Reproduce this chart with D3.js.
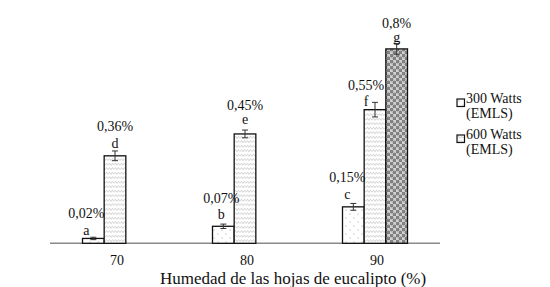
<!DOCTYPE html>
<html>
<head>
<meta charset="utf-8">
<script src="https://cdn.jsdelivr.net/npm/d3@7"></script>
<style>
  body { margin: 0; background: #fff; }
  svg text { font-family: "Liberation Serif", "DejaVu Serif", serif; fill: #111; }
</style>
</head>
<body>
<div id="container"></div>
<script>
/* DATA */
const categories = ["70", "80", "90"];
const seriesNames = ["300 Watts (EMLS)", "600 Watts (EMLS)", "Serie 3"];
const values300 = [0.02, 0.07, 0.15];
const values600 = [0.36, 0.45, 0.55];
const values3 = [null, null, 0.8];
const err300 = [0.005, 0.009, 0.014];
const err600 = [0.02, 0.016, 0.03];
const err3 = [null, null, 0.022];
const letters300 = ["a", "b", "c"];
const letters600 = ["d", "e", "f"];
const letters3 = [null, null, "g"];
const xTitle = "Humedad de las hojas de eucalipto (%)";

/* CONSTANTS */
const width = 550, height = 287;
const margin = { top: 0.3, left: 50, right: 110, axisY: 243.3 };

// small hand nudges for the labels (dx, letter dy from cap, percent dy from letter)
const nudges = [
  [[-7, -7, -17], [-2, -10, -16], [-6, -9, -17]],
  [[0, -8, -17], [0, -11, -14], [-9, -1, -16]],
  [null, null, [0, -6, -14]]
];

const seriesVals = [values300, values600, values3];
const seriesErr = [err300, err600, err3];
const seriesLetters = [letters300, letters600, letters3];

const data = [];
seriesVals.forEach((vals, s) => {
  vals.forEach((v, i) => {
    if (v == null) return;
    data.push({ cat: categories[i], s, v, err: seriesErr[s][i], letter: seriesLetters[s][i], nudge: nudges[s][i] });
  });
});

/* SCALES */
const x0 = d3.scaleBand()
  .domain(categories)
  .range([margin.left, width - margin.right])
  .paddingInner(0.5)
  .paddingOuter(0.25);

const x1 = d3.scaleBand()
  .domain(d3.range(seriesNames.length))
  .range([0, x0.bandwidth()]);

const y = d3.scaleLinear()
  .domain([0, 1])
  .range([margin.axisY, margin.top]);

/* SVG */
const svg = d3.select("#container").append("svg")
  .attr("width", width)
  .attr("height", height)
  .attr("font-family", "Liberation Serif, serif");

const defs = svg.append("defs");

// dots
const pDots = defs.append("pattern").attr("id", "p0")
  .attr("patternUnits", "userSpaceOnUse").attr("width", 8).attr("height", 8);
pDots.append("rect").attr("width", 8).attr("height", 8).attr("fill", "#fff");
pDots.selectAll("circle").data([[2, 2], [6, 6]]).join("circle")
  .attr("cx", d => d[0]).attr("cy", d => d[1]).attr("r", 0.6).attr("fill", "#999");

// zigzag
const pZig = defs.append("pattern").attr("id", "p1")
  .attr("patternUnits", "userSpaceOnUse").attr("width", 6).attr("height", 4.5);
pZig.append("rect").attr("width", 6).attr("height", 4.5).attr("fill", "#fff");
pZig.append("path").attr("d", "M0,3.2 L1.5,1.2 L3,3.2 L4.5,1.2 L6,3.2")
  .attr("fill", "none").attr("stroke", "#b8b8b8").attr("stroke-width", 0.7);

// circles
const pCirc = defs.append("pattern").attr("id", "p2")
  .attr("patternUnits", "userSpaceOnUse").attr("width", 6).attr("height", 6);
pCirc.append("rect").attr("width", 6).attr("height", 6).attr("fill", "#d2d2d2");
pCirc.selectAll("circle").data([[1.5, 1.5], [4.5, 4.5]]).join("circle")
  .attr("cx", d => d[0]).attr("cy", d => d[1]).attr("r", 1.5)
  .attr("fill", "#8a8a8a").attr("stroke", "#444").attr("stroke-width", 0.5);

// axis line
svg.append("line")
  .attr("x1", margin.left).attr("x2", width - margin.right)
  .attr("y1", margin.axisY).attr("y2", margin.axisY)
  .attr("stroke", "#8a8a8a").attr("stroke-width", 1.5);

// bars
svg.selectAll("rect.bar")
  .data(data)
  .join("rect")
  .attr("class", "bar")
  .attr("x", d => x0(d.cat) + x1(d.s))
  .attr("y", d => y(d.v))
  .attr("width", x1.bandwidth())
  .attr("height", d => y(0) - y(d.v))
  .attr("fill", d => `url(#p${d.s})`)
  .attr("stroke", "#111")
  .attr("stroke-width", 1.3);

// error bars
const eb = svg.selectAll("g.err").data(data).join("g").attr("class", "err")
  .attr("stroke", "#333").attr("stroke-width", 1);
const cx = d => x0(d.cat) + x1(d.s) + x1.bandwidth() / 2;
eb.append("line").attr("x1", cx).attr("x2", cx)
  .attr("y1", d => y(d.v + d.err)).attr("y2", d => y(d.v - d.err));
eb.append("line").attr("x1", d => cx(d) - 3).attr("x2", d => cx(d) + 3)
  .attr("y1", d => y(d.v + d.err)).attr("y2", d => y(d.v + d.err));
eb.append("line").attr("x1", d => cx(d) - 3).attr("x2", d => cx(d) + 3)
  .attr("y1", d => y(d.v - d.err)).attr("y2", d => y(d.v - d.err));

// letters and percentages
const fmt = v => String(v).replace(".", ",") + "%";
svg.selectAll("text.letter").data(data).join("text")
  .attr("class", "letter")
  .attr("x", d => cx(d) + d.nudge[0])
  .attr("y", d => y(d.v + d.err) + d.nudge[1])
  .attr("dy", "0.35em")
  .attr("text-anchor", "middle")
  .style("font-size", "14px")
  .text(d => d.letter);

svg.selectAll("text.pct").data(data).join("text")
  .attr("class", "pct")
  .attr("x", d => cx(d) + d.nudge[0])
  .attr("y", d => y(d.v + d.err) + d.nudge[1] + d.nudge[2])
  .attr("dy", "0.35em")
  .attr("text-anchor", "middle")
  .style("font-size", "14px")
  .text(d => fmt(d.v));

// category labels
svg.selectAll("text.cat").data(categories).join("text")
  .attr("class", "cat")
  .attr("x", d => x0(d) + x0.bandwidth() / 2 + 2)
  .attr("y", 265)
  .attr("text-anchor", "middle")
  .style("font-size", "14px")
  .text(d => d);

svg.append("text")
  .attr("x", (margin.left + width - margin.right) / 2 + 48)
  .attr("y", 283.5)
  .attr("text-anchor", "middle")
  .style("font-size", "17px")
  .text(xTitle);

// legend (two entries)
const legend = svg.selectAll("g.leg").data(seriesNames.slice(0, 2)).join("g")
  .attr("class", "leg")
  .attr("transform", (d, i) => `translate(457,${99 + i * 36})`);
legend.append("rect").attr("width", 7.5).attr("height", 7.5)
  .attr("fill", (d, i) => `url(#p${i})`).attr("stroke", "#111").attr("stroke-width", 1.2);
legend.append("text")
  .attr("x", 9).attr("y", 4)
  .attr("dy", "0.35em")
  .style("font-size", "14px")
  .selectAll("tspan")
  .data(d => d.split(" (").map((t, k) => k ? "(" + t : t))
  .join("tspan")
  .attr("x", 9)
  .attr("dy", (t, k) => k ? "1.1em" : 0)
  .text(t => t);
</script>
</body>
</html>
